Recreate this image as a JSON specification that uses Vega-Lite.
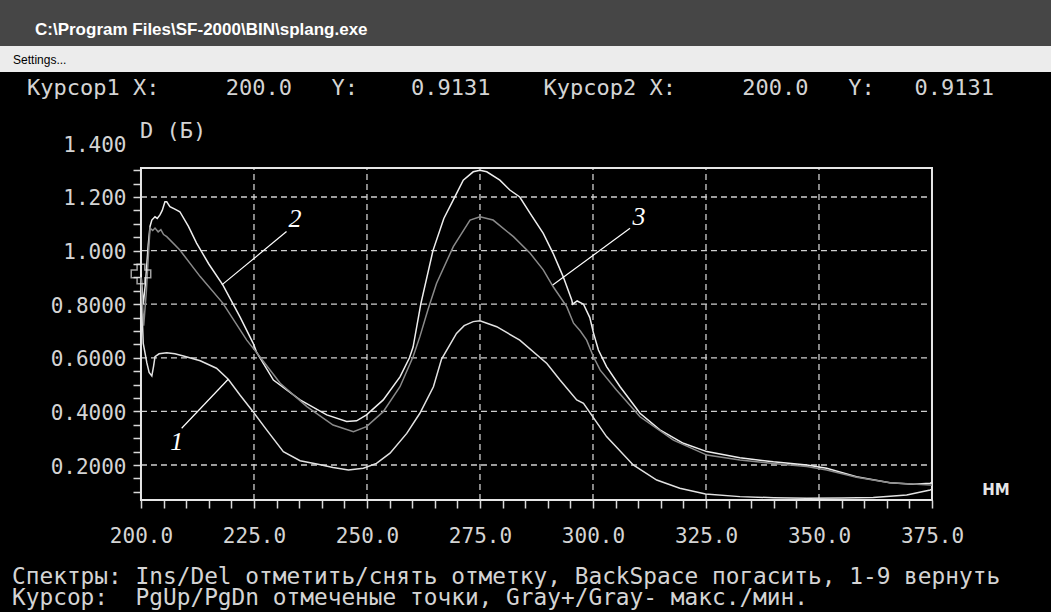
{
  "$schema": "https://vega.github.io/schema/vega-lite/v6.json",
  "background": "#464646",
  "padding": {"top": 21, "left": 0, "right": 0, "bottom": 0},
  "title": {"text": "C:\\Program Files\\SF-2000\\BIN\\splang.exe", "anchor": "start", "dx": 35, "font": "Liberation Sans", "fontSize": 17, "fontWeight": "bold", "color": "#ffffff", "offset": 7},
  "spacing": 0,
  "bounds": "flush",
  "config": {
    "view": {"stroke": null},
    "axis": {"domain": false, "grid": false, "labelFont": "DejaVu Sans Mono", "labelFontSize": 21, "labelColor": "#d4d4d4", "labelOverlap": false, "labelBound": false, "labelFlush": false, "ticks": true, "tickColor": "#d8d8d8", "tickSize": 8, "tickWidth": 1.5}
  },
  "vconcat": [
    {
      "width": 1051,
      "height": 26,
      "view": {"fill": "#ececec", "stroke": null},
      "data": {"values": [{}]},
      "mark": {"type": "text", "text": "Settings...", "font": "Liberation Sans", "fontSize": 12, "color": "#000000", "align": "left", "baseline": "middle"},
      "encoding": {
        "x": {"datum": 0.0124, "type": "quantitative", "scale": {"domain": [0, 1], "nice": false}, "axis": null},
        "y": {"datum": 0.46, "type": "quantitative", "scale": {"domain": [0, 1], "nice": false}, "axis": null}
      }
    },
    {
      "width": 1051,
      "height": 540,
      "view": {"fill": "#000000", "stroke": null},
      "layer": [
        {
          "data": {"values": [{"g": 225}, {"g": 250}, {"g": 275}, {"g": 300}, {"g": 325}, {"g": 350}]},
          "mark": {"type": "rule", "color": "#cfcfcf", "strokeWidth": 1.3, "strokeDash": [6, 4]},
          "encoding": {
            "x": {"field": "g", "type": "quantitative", "scale": {"domain": [168.81, 401.33], "nice": false, "zero": false},
              "axis": {"orient": "bottom", "offset": -112, "title": null, "ticks": true, "tickSize": 8, "tickWidth": 1.5, "tickColor": "#d8d8d8", "labelPadding": 17, "labelOverlap": false, "values": [200, 205, 210, 215, 220, 225, 230, 235, 240, 245, 250, 255, 260, 265, 270, 275, 280, 285, 290, 295, 300, 305, 310, 315, 320, 325, 330, 335, 340, 345, 350, 355, 360, 365, 370, 375], "labelExpr": "datum.value % 25 === 0 ? format(datum.value, '.1f') : ''"}},
            "y": {"datum": 0.069, "type": "quantitative", "scale": {"domain": [-0.3485, 1.6664], "nice": false, "zero": false},
              "axis": {"orient": "left", "offset": -141, "title": null, "ticks": true, "tickSize": 8, "tickWidth": 1.5, "tickColor": {"condition": {"test": "datum.value > 1.35", "value": "#000000"}, "value": "#d8d8d8"}, "labelPadding": 7, "labelOffset": 2, "labelOverlap": false, "values": [0.1, 0.15, 0.2, 0.25, 0.3, 0.35, 0.4, 0.45, 0.5, 0.55, 0.6, 0.65, 0.7, 0.75, 0.8, 0.85, 0.9, 0.95, 1.0, 1.05, 1.1, 1.15, 1.2, 1.25, 1.3, 1.4], "labelExpr": "abs(datum.value*5 - round(datum.value*5)) < 0.001 ? (datum.value >= 0.999 ? format(datum.value, '.3f') : format(datum.value, '.4f')) : ''"}},
            "y2": {"datum": 1.308}
          }
        },
        {
          "data": {"values": [{"g": 0.2}, {"g": 0.4}, {"g": 0.6}, {"g": 0.8}, {"g": 1.0}, {"g": 1.2}]},
          "mark": {"type": "rule", "color": "#cfcfcf", "strokeWidth": 1.3, "strokeDash": [6, 4]},
          "encoding": {
            "x": {"datum": 200, "type": "quantitative", "scale": {"domain": [168.81, 401.33], "nice": false, "zero": false},
              "axis": {"orient": "bottom", "offset": -112, "title": null, "ticks": true, "tickSize": 8, "tickWidth": 1.5, "tickColor": "#d8d8d8", "labelPadding": 17, "labelOverlap": false, "values": [200, 205, 210, 215, 220, 225, 230, 235, 240, 245, 250, 255, 260, 265, 270, 275, 280, 285, 290, 295, 300, 305, 310, 315, 320, 325, 330, 335, 340, 345, 350, 355, 360, 365, 370, 375], "labelExpr": "datum.value % 25 === 0 ? format(datum.value, '.1f') : ''"}},
            "x2": {"datum": 375},
            "y": {"field": "g", "type": "quantitative", "scale": {"domain": [-0.3485, 1.6664], "nice": false, "zero": false},
              "axis": {"orient": "left", "offset": -141, "title": null, "ticks": true, "tickSize": 8, "tickWidth": 1.5, "tickColor": {"condition": {"test": "datum.value > 1.35", "value": "#000000"}, "value": "#d8d8d8"}, "labelPadding": 7, "labelOffset": 2, "labelOverlap": false, "values": [0.1, 0.15, 0.2, 0.25, 0.3, 0.35, 0.4, 0.45, 0.5, 0.55, 0.6, 0.65, 0.7, 0.75, 0.8, 0.85, 0.9, 0.95, 1.0, 1.05, 1.1, 1.15, 1.2, 1.25, 1.3, 1.4], "labelExpr": "abs(datum.value*5 - round(datum.value*5)) < 0.001 ? (datum.value >= 0.999 ? format(datum.value, '.3f') : format(datum.value, '.4f')) : ''"}}
          }
        },
        {
          "data": {"values": [{}]},
          "mark": {"type": "rect", "filled": false, "stroke": "#e6e6e6", "strokeWidth": 2},
          "encoding": {
            "x": {"datum": 200, "type": "quantitative", "scale": {"domain": [168.81, 401.33], "nice": false, "zero": false},
              "axis": {"orient": "bottom", "offset": -112, "title": null, "ticks": true, "tickSize": 8, "tickWidth": 1.5, "tickColor": "#d8d8d8", "labelPadding": 17, "labelOverlap": false, "values": [200, 205, 210, 215, 220, 225, 230, 235, 240, 245, 250, 255, 260, 265, 270, 275, 280, 285, 290, 295, 300, 305, 310, 315, 320, 325, 330, 335, 340, 345, 350, 355, 360, 365, 370, 375], "labelExpr": "datum.value % 25 === 0 ? format(datum.value, '.1f') : ''"}},
            "x2": {"datum": 375},
            "y": {"datum": 0.069, "type": "quantitative", "scale": {"domain": [-0.3485, 1.6664], "nice": false, "zero": false},
              "axis": {"orient": "left", "offset": -141, "title": null, "ticks": true, "tickSize": 8, "tickWidth": 1.5, "tickColor": {"condition": {"test": "datum.value > 1.35", "value": "#000000"}, "value": "#d8d8d8"}, "labelPadding": 7, "labelOffset": 2, "labelOverlap": false, "values": [0.1, 0.15, 0.2, 0.25, 0.3, 0.35, 0.4, 0.45, 0.5, 0.55, 0.6, 0.65, 0.7, 0.75, 0.8, 0.85, 0.9, 0.95, 1.0, 1.05, 1.1, 1.15, 1.2, 1.25, 1.3, 1.4], "labelExpr": "abs(datum.value*5 - round(datum.value*5)) < 0.001 ? (datum.value >= 0.999 ? format(datum.value, '.3f') : format(datum.value, '.4f')) : ''"}},
            "y2": {"datum": 1.308}
          }
        },
        {
          "data": {"values": [
            {"s": "1", "nm": 200.0, "D": 0.88}, {"s": "1", "nm": 200.5, "D": 0.654}, {"s": "1", "nm": 201.3, "D": 0.581}, {"s": "1", "nm": 201.8, "D": 0.545}, {"s": "1", "nm": 202.4, "D": 0.532}, {"s": "1", "nm": 202.8, "D": 0.57}, {"s": "1", "nm": 203.1, "D": 0.604}, {"s": "1", "nm": 204.0, "D": 0.615}, {"s": "1", "nm": 205.7, "D": 0.619}, {"s": "1", "nm": 207.5, "D": 0.615}, {"s": "1", "nm": 209.4, "D": 0.607}, {"s": "1", "nm": 213.1, "D": 0.589}, {"s": "1", "nm": 216.7, "D": 0.561}, {"s": "1", "nm": 219.3, "D": 0.52}, {"s": "1", "nm": 221.9, "D": 0.461}, {"s": "1", "nm": 224.8, "D": 0.399}, {"s": "1", "nm": 227.8, "D": 0.331}, {"s": "1", "nm": 231.5, "D": 0.25}, {"s": "1", "nm": 235.2, "D": 0.216}, {"s": "1", "nm": 238.9, "D": 0.204}, {"s": "1", "nm": 242.5, "D": 0.191}, {"s": "1", "nm": 245.9, "D": 0.181}, {"s": "1", "nm": 249.2, "D": 0.188}, {"s": "1", "nm": 252.1, "D": 0.206}, {"s": "1", "nm": 255.1, "D": 0.244}, {"s": "1", "nm": 258.8, "D": 0.318}, {"s": "1", "nm": 261.7, "D": 0.393}, {"s": "1", "nm": 264.7, "D": 0.492}, {"s": "1", "nm": 266.5, "D": 0.595}, {"s": "1", "nm": 269.8, "D": 0.691}, {"s": "1", "nm": 271.5, "D": 0.72}, {"s": "1", "nm": 273.5, "D": 0.735}, {"s": "1", "nm": 275.0, "D": 0.738}, {"s": "1", "nm": 278.7, "D": 0.716}, {"s": "1", "nm": 283.8, "D": 0.666}, {"s": "1", "nm": 289.8, "D": 0.579}, {"s": "1", "nm": 292.7, "D": 0.517}, {"s": "1", "nm": 296.4, "D": 0.443}, {"s": "1", "nm": 297.9, "D": 0.43}, {"s": "1", "nm": 303.0, "D": 0.306}, {"s": "1", "nm": 308.9, "D": 0.2}, {"s": "1", "nm": 314.1, "D": 0.144}, {"s": "1", "nm": 319.2, "D": 0.113}, {"s": "1", "nm": 324.9, "D": 0.092}, {"s": "1", "nm": 332.5, "D": 0.082}, {"s": "1", "nm": 340.0, "D": 0.078}, {"s": "1", "nm": 347.3, "D": 0.076}, {"s": "1", "nm": 355.0, "D": 0.077}, {"s": "1", "nm": 362.0, "D": 0.079}, {"s": "1", "nm": 369.4, "D": 0.088}, {"s": "1", "nm": 374.6, "D": 0.107}, {"s": "1", "nm": 375.0, "D": 0.11},
            {"s": "2", "nm": 200.0, "D": 0.913}, {"s": "2", "nm": 200.5, "D": 0.8}, {"s": "2", "nm": 201.0, "D": 0.88}, {"s": "2", "nm": 201.6, "D": 1.02}, {"s": "2", "nm": 202.0, "D": 1.09}, {"s": "2", "nm": 202.4, "D": 1.114}, {"s": "2", "nm": 203.1, "D": 1.126}, {"s": "2", "nm": 203.6, "D": 1.12}, {"s": "2", "nm": 204.2, "D": 1.133}, {"s": "2", "nm": 204.7, "D": 1.15}, {"s": "2", "nm": 205.3, "D": 1.182}, {"s": "2", "nm": 205.7, "D": 1.182}, {"s": "2", "nm": 206.4, "D": 1.164}, {"s": "2", "nm": 207.5, "D": 1.155}, {"s": "2", "nm": 208.6, "D": 1.145}, {"s": "2", "nm": 210.5, "D": 1.09}, {"s": "2", "nm": 212.3, "D": 1.028}, {"s": "2", "nm": 215.0, "D": 0.95}, {"s": "2", "nm": 218.1, "D": 0.872}, {"s": "2", "nm": 221.9, "D": 0.753}, {"s": "2", "nm": 224.8, "D": 0.655}, {"s": "2", "nm": 225.6, "D": 0.62}, {"s": "2", "nm": 229.3, "D": 0.517}, {"s": "2", "nm": 235.2, "D": 0.443}, {"s": "2", "nm": 241.1, "D": 0.387}, {"s": "2", "nm": 245.5, "D": 0.362}, {"s": "2", "nm": 247.7, "D": 0.365}, {"s": "2", "nm": 249.9, "D": 0.387}, {"s": "2", "nm": 253.6, "D": 0.443}, {"s": "2", "nm": 257.3, "D": 0.529}, {"s": "2", "nm": 259.4, "D": 0.6}, {"s": "2", "nm": 260.2, "D": 0.64}, {"s": "2", "nm": 261.9, "D": 0.8}, {"s": "2", "nm": 264.6, "D": 1.0}, {"s": "2", "nm": 267.0, "D": 1.12}, {"s": "2", "nm": 269.1, "D": 1.189}, {"s": "2", "nm": 271.3, "D": 1.263}, {"s": "2", "nm": 273.5, "D": 1.294}, {"s": "2", "nm": 275.0, "D": 1.3}, {"s": "2", "nm": 276.5, "D": 1.294}, {"s": "2", "nm": 279.4, "D": 1.263}, {"s": "2", "nm": 281.6, "D": 1.226}, {"s": "2", "nm": 283.8, "D": 1.2}, {"s": "2", "nm": 286.1, "D": 1.139}, {"s": "2", "nm": 289.0, "D": 1.064}, {"s": "2", "nm": 291.2, "D": 0.989}, {"s": "2", "nm": 293.4, "D": 0.903}, {"s": "2", "nm": 295.3, "D": 0.816}, {"s": "2", "nm": 295.5, "D": 0.8}, {"s": "2", "nm": 296.5, "D": 0.812}, {"s": "2", "nm": 297.9, "D": 0.8}, {"s": "2", "nm": 299.3, "D": 0.75}, {"s": "2", "nm": 300.1, "D": 0.693}, {"s": "2", "nm": 301.2, "D": 0.629}, {"s": "2", "nm": 303.0, "D": 0.567}, {"s": "2", "nm": 306.0, "D": 0.492}, {"s": "2", "nm": 310.4, "D": 0.393}, {"s": "2", "nm": 314.8, "D": 0.331}, {"s": "2", "nm": 320.0, "D": 0.281}, {"s": "2", "nm": 325.2, "D": 0.25}, {"s": "2", "nm": 332.5, "D": 0.227}, {"s": "2", "nm": 339.9, "D": 0.212}, {"s": "2", "nm": 347.3, "D": 0.2}, {"s": "2", "nm": 351.7, "D": 0.188}, {"s": "2", "nm": 358.3, "D": 0.156}, {"s": "2", "nm": 365.7, "D": 0.134}, {"s": "2", "nm": 370.9, "D": 0.128}, {"s": "2", "nm": 374.6, "D": 0.132}, {"s": "2", "nm": 375.0, "D": 0.135},
            {"s": "3", "nm": 200.0, "D": 0.9}, {"s": "3", "nm": 200.6, "D": 0.72}, {"s": "3", "nm": 201.2, "D": 0.85}, {"s": "3", "nm": 201.7, "D": 1.0}, {"s": "3", "nm": 202.0, "D": 1.084}, {"s": "3", "nm": 202.6, "D": 1.075}, {"s": "3", "nm": 203.1, "D": 1.084}, {"s": "3", "nm": 203.8, "D": 1.07}, {"s": "3", "nm": 204.4, "D": 1.078}, {"s": "3", "nm": 205.0, "D": 1.06}, {"s": "3", "nm": 205.7, "D": 1.052}, {"s": "3", "nm": 208.6, "D": 1.002}, {"s": "3", "nm": 213.1, "D": 0.903}, {"s": "3", "nm": 218.1, "D": 0.804}, {"s": "3", "nm": 223.4, "D": 0.666}, {"s": "3", "nm": 226.3, "D": 0.604}, {"s": "3", "nm": 230.8, "D": 0.505}, {"s": "3", "nm": 236.7, "D": 0.418}, {"s": "3", "nm": 242.5, "D": 0.349}, {"s": "3", "nm": 247.0, "D": 0.324}, {"s": "3", "nm": 249.9, "D": 0.343}, {"s": "3", "nm": 253.6, "D": 0.399}, {"s": "3", "nm": 257.3, "D": 0.492}, {"s": "3", "nm": 260.2, "D": 0.604}, {"s": "3", "nm": 261.7, "D": 0.679}, {"s": "3", "nm": 263.5, "D": 0.78}, {"s": "3", "nm": 265.4, "D": 0.878}, {"s": "3", "nm": 269.1, "D": 1.015}, {"s": "3", "nm": 272.8, "D": 1.114}, {"s": "3", "nm": 275.0, "D": 1.126}, {"s": "3", "nm": 277.9, "D": 1.114}, {"s": "3", "nm": 282.4, "D": 1.052}, {"s": "3", "nm": 286.1, "D": 0.99}, {"s": "3", "nm": 289.0, "D": 0.928}, {"s": "3", "nm": 291.2, "D": 0.865}, {"s": "3", "nm": 294.2, "D": 0.791}, {"s": "3", "nm": 295.7, "D": 0.729}, {"s": "3", "nm": 297.2, "D": 0.7}, {"s": "3", "nm": 298.6, "D": 0.666}, {"s": "3", "nm": 300.1, "D": 0.604}, {"s": "3", "nm": 301.6, "D": 0.554}, {"s": "3", "nm": 305.2, "D": 0.48}, {"s": "3", "nm": 310.4, "D": 0.38}, {"s": "3", "nm": 317.8, "D": 0.293}, {"s": "3", "nm": 325.2, "D": 0.237}, {"s": "3", "nm": 332.5, "D": 0.219}, {"s": "3", "nm": 339.9, "D": 0.206}, {"s": "3", "nm": 347.3, "D": 0.194}, {"s": "3", "nm": 351.7, "D": 0.181}, {"s": "3", "nm": 358.3, "D": 0.154}, {"s": "3", "nm": 365.7, "D": 0.134}, {"s": "3", "nm": 374.6, "D": 0.125}, {"s": "3", "nm": 375.0, "D": 0.125}
          ]},
          "mark": {"type": "line", "strokeWidth": 1.5},
          "encoding": {
            "x": {"field": "nm", "type": "quantitative", "scale": {"domain": [168.81, 401.33], "nice": false, "zero": false},
              "axis": {"orient": "bottom", "offset": -112, "title": null, "ticks": true, "tickSize": 8, "tickWidth": 1.5, "tickColor": "#d8d8d8", "labelPadding": 17, "labelOverlap": false, "values": [200, 205, 210, 215, 220, 225, 230, 235, 240, 245, 250, 255, 260, 265, 270, 275, 280, 285, 290, 295, 300, 305, 310, 315, 320, 325, 330, 335, 340, 345, 350, 355, 360, 365, 370, 375], "labelExpr": "datum.value % 25 === 0 ? format(datum.value, '.1f') : ''"}},
            "y": {"field": "D", "type": "quantitative", "scale": {"domain": [-0.3485, 1.6664], "nice": false, "zero": false},
              "axis": {"orient": "left", "offset": -141, "title": null, "ticks": true, "tickSize": 8, "tickWidth": 1.5, "tickColor": {"condition": {"test": "datum.value > 1.35", "value": "#000000"}, "value": "#d8d8d8"}, "labelPadding": 7, "labelOffset": 2, "labelOverlap": false, "values": [0.1, 0.15, 0.2, 0.25, 0.3, 0.35, 0.4, 0.45, 0.5, 0.55, 0.6, 0.65, 0.7, 0.75, 0.8, 0.85, 0.9, 0.95, 1.0, 1.05, 1.1, 1.15, 1.2, 1.25, 1.3, 1.4], "labelExpr": "abs(datum.value*5 - round(datum.value*5)) < 0.001 ? (datum.value >= 0.999 ? format(datum.value, '.3f') : format(datum.value, '.4f')) : ''"}},
            "color": {"field": "s", "type": "nominal", "scale": {"domain": ["1", "2", "3"], "range": ["#e2e2e2", "#eeeeee", "#8a8a8a"]}, "legend": null}
          }
        },
        {
          "data": {"values": [
            {"lab": "1", "tx": 207.9, "ty": 0.284, "xa": 209.0, "ya": 0.337, "xb": 219.3, "yb": 0.52},
            {"lab": "2", "tx": 234.1, "ty": 1.118, "xa": 232.2, "ya": 1.071, "xb": 217.9, "yb": 0.872},
            {"lab": "3", "tx": 310.2, "ty": 1.127, "xa": 308.2, "ya": 1.083, "xb": 291.1, "yb": 0.872}
          ]},
          "layer": [
            {
              "mark": {"type": "rule", "color": "#ffffff", "strokeWidth": 1.2},
              "encoding": {
                "x": {"field": "xa", "type": "quantitative", "scale": {"domain": [168.81, 401.33], "nice": false, "zero": false},
                  "axis": {"orient": "bottom", "offset": -112, "title": null, "ticks": true, "tickSize": 8, "tickWidth": 1.5, "tickColor": "#d8d8d8", "labelPadding": 17, "labelOverlap": false, "values": [200, 205, 210, 215, 220, 225, 230, 235, 240, 245, 250, 255, 260, 265, 270, 275, 280, 285, 290, 295, 300, 305, 310, 315, 320, 325, 330, 335, 340, 345, 350, 355, 360, 365, 370, 375], "labelExpr": "datum.value % 25 === 0 ? format(datum.value, '.1f') : ''"}},
                "y": {"field": "ya", "type": "quantitative", "scale": {"domain": [-0.3485, 1.6664], "nice": false, "zero": false},
                  "axis": {"orient": "left", "offset": -141, "title": null, "ticks": true, "tickSize": 8, "tickWidth": 1.5, "tickColor": {"condition": {"test": "datum.value > 1.35", "value": "#000000"}, "value": "#d8d8d8"}, "labelPadding": 7, "labelOffset": 2, "labelOverlap": false, "values": [0.1, 0.15, 0.2, 0.25, 0.3, 0.35, 0.4, 0.45, 0.5, 0.55, 0.6, 0.65, 0.7, 0.75, 0.8, 0.85, 0.9, 0.95, 1.0, 1.05, 1.1, 1.15, 1.2, 1.25, 1.3, 1.4], "labelExpr": "abs(datum.value*5 - round(datum.value*5)) < 0.001 ? (datum.value >= 0.999 ? format(datum.value, '.3f') : format(datum.value, '.4f')) : ''"}},
                "x2": {"field": "xb"},
                "y2": {"field": "yb"}
              }
            },
            {
              "mark": {"type": "text", "font": "Liberation Serif", "fontStyle": "italic", "fontSize": 26, "color": "#ffffff", "align": "center", "baseline": "middle"},
              "encoding": {
                "x": {"field": "tx", "type": "quantitative", "scale": {"domain": [168.81, 401.33], "nice": false, "zero": false},
                  "axis": {"orient": "bottom", "offset": -112, "title": null, "ticks": true, "tickSize": 8, "tickWidth": 1.5, "tickColor": "#d8d8d8", "labelPadding": 17, "labelOverlap": false, "values": [200, 205, 210, 215, 220, 225, 230, 235, 240, 245, 250, 255, 260, 265, 270, 275, 280, 285, 290, 295, 300, 305, 310, 315, 320, 325, 330, 335, 340, 345, 350, 355, 360, 365, 370, 375], "labelExpr": "datum.value % 25 === 0 ? format(datum.value, '.1f') : ''"}},
                "y": {"field": "ty", "type": "quantitative", "scale": {"domain": [-0.3485, 1.6664], "nice": false, "zero": false},
                  "axis": {"orient": "left", "offset": -141, "title": null, "ticks": true, "tickSize": 8, "tickWidth": 1.5, "tickColor": {"condition": {"test": "datum.value > 1.35", "value": "#000000"}, "value": "#d8d8d8"}, "labelPadding": 7, "labelOffset": 2, "labelOverlap": false, "values": [0.1, 0.15, 0.2, 0.25, 0.3, 0.35, 0.4, 0.45, 0.5, 0.55, 0.6, 0.65, 0.7, 0.75, 0.8, 0.85, 0.9, 0.95, 1.0, 1.05, 1.1, 1.15, 1.2, 1.25, 1.3, 1.4], "labelExpr": "abs(datum.value*5 - round(datum.value*5)) < 0.001 ? (datum.value >= 0.999 ? format(datum.value, '.3f') : format(datum.value, '.4f')) : ''"}},
                "text": {"field": "lab"}
              }
            }
          ]
        },
        {
          "data": {"values": [{"t": "Курсор1\u00a0X:\u00a0\u00a0\u00a0\u00a0\u00a0200.0\u00a0\u00a0\u00a0Y:\u00a0\u00a0\u00a0\u00a00.9131\u00a0\u00a0\u00a0\u00a0Курсор2\u00a0X:\u00a0\u00a0\u00a0\u00a0\u00a0200.0\u00a0\u00a0\u00a0Y:\u00a0\u00a0\u00a00.9131", "px": 174.78, "py": 1.6067}, {"t": "D (Б)", "px": 199.78, "py": 1.446}]},
          "mark": {"type": "text", "font": "DejaVu Sans Mono", "fontSize": 22, "color": "#d4d4d4", "align": "left", "baseline": "middle"},
          "encoding": {
            "x": {"field": "px", "type": "quantitative", "scale": {"domain": [168.81, 401.33], "nice": false, "zero": false},
              "axis": {"orient": "bottom", "offset": -112, "title": null, "ticks": true, "tickSize": 8, "tickWidth": 1.5, "tickColor": "#d8d8d8", "labelPadding": 17, "labelOverlap": false, "values": [200, 205, 210, 215, 220, 225, 230, 235, 240, 245, 250, 255, 260, 265, 270, 275, 280, 285, 290, 295, 300, 305, 310, 315, 320, 325, 330, 335, 340, 345, 350, 355, 360, 365, 370, 375], "labelExpr": "datum.value % 25 === 0 ? format(datum.value, '.1f') : ''"}},
            "y": {"field": "py", "type": "quantitative", "scale": {"domain": [-0.3485, 1.6664], "nice": false, "zero": false},
              "axis": {"orient": "left", "offset": -141, "title": null, "ticks": true, "tickSize": 8, "tickWidth": 1.5, "tickColor": {"condition": {"test": "datum.value > 1.35", "value": "#000000"}, "value": "#d8d8d8"}, "labelPadding": 7, "labelOffset": 2, "labelOverlap": false, "values": [0.1, 0.15, 0.2, 0.25, 0.3, 0.35, 0.4, 0.45, 0.5, 0.55, 0.6, 0.65, 0.7, 0.75, 0.8, 0.85, 0.9, 0.95, 1.0, 1.05, 1.1, 1.15, 1.2, 1.25, 1.3, 1.4], "labelExpr": "abs(datum.value*5 - round(datum.value*5)) < 0.001 ? (datum.value >= 0.999 ? format(datum.value, '.3f') : format(datum.value, '.4f')) : ''"}},
            "text": {"field": "t"}
          }
        },
        {
          "data": {"values": [{"t": "Спектры: Ins/Del отметить/снять отметку, BackSpace погасить, 1-9 вернуть", "px": 171.46, "py": -0.2174}, {"t": "Курсор:\u00a0\u00a0PgUp/PgDn отмеченые точки, Gray+/Gray- макс./мин.", "px": 171.46, "py": -0.2958}]},
          "mark": {"type": "text", "font": "DejaVu Sans Mono", "fontSize": 22.8, "color": "#d4d4d4", "align": "left", "baseline": "middle"},
          "encoding": {
            "x": {"field": "px", "type": "quantitative", "scale": {"domain": [168.81, 401.33], "nice": false, "zero": false},
              "axis": {"orient": "bottom", "offset": -112, "title": null, "ticks": true, "tickSize": 8, "tickWidth": 1.5, "tickColor": "#d8d8d8", "labelPadding": 17, "labelOverlap": false, "values": [200, 205, 210, 215, 220, 225, 230, 235, 240, 245, 250, 255, 260, 265, 270, 275, 280, 285, 290, 295, 300, 305, 310, 315, 320, 325, 330, 335, 340, 345, 350, 355, 360, 365, 370, 375], "labelExpr": "datum.value % 25 === 0 ? format(datum.value, '.1f') : ''"}},
            "y": {"field": "py", "type": "quantitative", "scale": {"domain": [-0.3485, 1.6664], "nice": false, "zero": false},
              "axis": {"orient": "left", "offset": -141, "title": null, "ticks": true, "tickSize": 8, "tickWidth": 1.5, "tickColor": {"condition": {"test": "datum.value > 1.35", "value": "#000000"}, "value": "#d8d8d8"}, "labelPadding": 7, "labelOffset": 2, "labelOverlap": false, "values": [0.1, 0.15, 0.2, 0.25, 0.3, 0.35, 0.4, 0.45, 0.5, 0.55, 0.6, 0.65, 0.7, 0.75, 0.8, 0.85, 0.9, 0.95, 1.0, 1.05, 1.1, 1.15, 1.2, 1.25, 1.3, 1.4], "labelExpr": "abs(datum.value*5 - round(datum.value*5)) < 0.001 ? (datum.value >= 0.999 ? format(datum.value, '.3f') : format(datum.value, '.4f')) : ''"}},
            "text": {"field": "t"}
          }
        },
        {
          "data": {"values": [{}]},
          "layer": [
            {
              "mark": {"type": "point", "shape": "cross", "size": 380, "filled": false, "color": "#e6e6e6", "strokeWidth": 1.5},
              "encoding": {
                "x": {"datum": 200, "type": "quantitative", "scale": {"domain": [168.81, 401.33], "nice": false, "zero": false},
                  "axis": {"orient": "bottom", "offset": -112, "title": null, "ticks": true, "tickSize": 8, "tickWidth": 1.5, "tickColor": "#d8d8d8", "labelPadding": 17, "labelOverlap": false, "values": [200, 205, 210, 215, 220, 225, 230, 235, 240, 245, 250, 255, 260, 265, 270, 275, 280, 285, 290, 295, 300, 305, 310, 315, 320, 325, 330, 335, 340, 345, 350, 355, 360, 365, 370, 375], "labelExpr": "datum.value % 25 === 0 ? format(datum.value, '.1f') : ''"}},
                "y": {"datum": 0.9131, "type": "quantitative", "scale": {"domain": [-0.3485, 1.6664], "nice": false, "zero": false},
                  "axis": {"orient": "left", "offset": -141, "title": null, "ticks": true, "tickSize": 8, "tickWidth": 1.5, "tickColor": {"condition": {"test": "datum.value > 1.35", "value": "#000000"}, "value": "#d8d8d8"}, "labelPadding": 7, "labelOffset": 2, "labelOverlap": false, "values": [0.1, 0.15, 0.2, 0.25, 0.3, 0.35, 0.4, 0.45, 0.5, 0.55, 0.6, 0.65, 0.7, 0.75, 0.8, 0.85, 0.9, 0.95, 1.0, 1.05, 1.1, 1.15, 1.2, 1.25, 1.3, 1.4], "labelExpr": "abs(datum.value*5 - round(datum.value*5)) < 0.001 ? (datum.value >= 0.999 ? format(datum.value, '.3f') : format(datum.value, '.4f')) : ''"}}
              }
            },
            {
              "mark": {"type": "text", "text": "НМ", "font": "DejaVu Sans", "fontWeight": "bold", "fontSize": 15, "color": "#e6e6e6", "align": "center", "baseline": "middle"},
              "encoding": {
                "x": {"datum": 389.16, "type": "quantitative", "scale": {"domain": [168.81, 401.33], "nice": false, "zero": false},
                  "axis": {"orient": "bottom", "offset": -112, "title": null, "ticks": true, "tickSize": 8, "tickWidth": 1.5, "tickColor": "#d8d8d8", "labelPadding": 17, "labelOverlap": false, "values": [200, 205, 210, 215, 220, 225, 230, 235, 240, 245, 250, 255, 260, 265, 270, 275, 280, 285, 290, 295, 300, 305, 310, 315, 320, 325, 330, 335, 340, 345, 350, 355, 360, 365, 370, 375], "labelExpr": "datum.value % 25 === 0 ? format(datum.value, '.1f') : ''"}},
                "y": {"datum": 0.105, "type": "quantitative", "scale": {"domain": [-0.3485, 1.6664], "nice": false, "zero": false},
                  "axis": {"orient": "left", "offset": -141, "title": null, "ticks": true, "tickSize": 8, "tickWidth": 1.5, "tickColor": {"condition": {"test": "datum.value > 1.35", "value": "#000000"}, "value": "#d8d8d8"}, "labelPadding": 7, "labelOffset": 2, "labelOverlap": false, "values": [0.1, 0.15, 0.2, 0.25, 0.3, 0.35, 0.4, 0.45, 0.5, 0.55, 0.6, 0.65, 0.7, 0.75, 0.8, 0.85, 0.9, 0.95, 1.0, 1.05, 1.1, 1.15, 1.2, 1.25, 1.3, 1.4], "labelExpr": "abs(datum.value*5 - round(datum.value*5)) < 0.001 ? (datum.value >= 0.999 ? format(datum.value, '.3f') : format(datum.value, '.4f')) : ''"}}
              }
            }
          ]
        }
      ]
    }
  ]
}
